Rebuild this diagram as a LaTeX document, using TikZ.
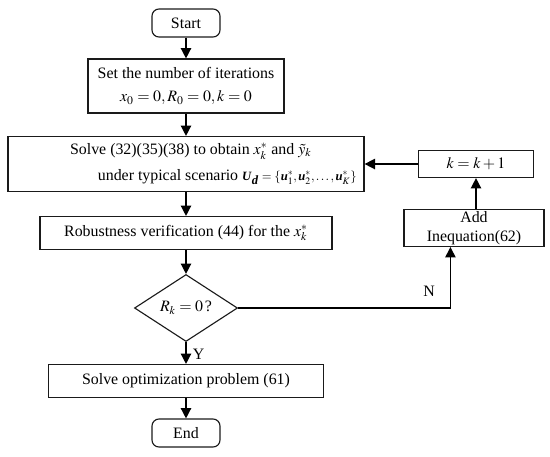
\documentclass[tikz,border=0pt]{standalone}
\usepackage{mathptmx}
\usepackage{fontspec}
\setmainfont{Liberation Serif}
\usetikzlibrary{arrows.meta,shapes.geometric}
\definecolor{boxline}{HTML}{1A1A1A}

\begin{document}
\begin{tikzpicture}[
  x=0.025cm, y=-0.025cm,
  font=\fontsize{11.3}{13.5}\selectfont,
  terminal/.style={draw=boxline, thick, rounded corners=5pt, minimum width=1.7cm,
                   minimum height=0.7cm, inner sep=0pt},
  process/.style={draw=boxline, thick, align=center, inner sep=0pt},
  decision/.style={draw=boxline, thick, diamond, inner sep=0pt,
                   minimum width=2.575cm, minimum height=1.675cm},
  flow/.style={-{Triangle[length=2.6mm,width=2.6mm]}, black, line width=1pt},
  branch/.style={font=\fontsize{11.3}{13.5}\selectfont},
]
\useasboundingbox (0,0) rectangle (550,456);

% ── main column ─────────────────────────────────────────────────────────
\node[terminal] (start) at (186,23) {Start};
\node[process, minimum width=4.9cm, minimum height=1.35cm] (init) at (186,86)
      {Set the number of iterations\\[3pt] $x_0 = 0, R_0 = 0, k = 0$};
\node[process, minimum width=8.9cm, minimum height=1.375cm] (solve) at (186,164)
      {\hspace*{0.6em}Solve (32)(35)(38) to obtain $x_k^*$ and $\tilde{y}_k$\\[5pt]
       \hspace*{5.2em}under typical scenario {\small$\textbf{\textit{U}}_{\textbf{\textit{d}}}
       = \{\textbf{\textit{u}}_1^*, \textbf{\textit{u}}_2^*, \ldots, \textbf{\textit{u}}_K^*\}$}};
\node[process, minimum width=7.3cm, minimum height=0.825cm] (robust) at (186,233)
      {Robustness verification (44) for the $x_k^*$};
\node[decision] (check) at (186,308) {$R_k = 0\,$?};
\node[process, minimum width=6.875cm, minimum height=0.825cm] (optim) at (186,381)
      {Solve optimization problem (61)};
\node[terminal] (stop) at (186,433) {End};

% ── feedback branch ─────────────────────────────────────────────────────
\node[process, minimum width=2.875cm, minimum height=0.675cm] (kinc) at (476,164)
      {$k = k + 1$};
\node[process, minimum width=3.5cm, minimum height=0.925cm] (addineq) at (474,228)
      {Add\\Inequation(62)};
\coordinate (nin) at ([xshift=1.175cm]addineq.south west);

% ── connectors ──────────────────────────────────────────────────────────
\draw[flow] (start) -- (init);
\draw[flow] (init) -- (solve);
\draw[flow] (solve) -- (robust);
\draw[flow] (robust) -- (check);
\draw[flow] (check) -- node[branch, right=1pt, pos=0.55] {Y} (optim);
\draw[flow] (optim) -- (stop);
\draw[flow] (check.east) -- node[branch, pos=0.9, above=4pt] {N}
      (check.east -| nin) -- (nin);
\draw[flow] (addineq.north -| kinc) -- (kinc);
\draw[flow] (kinc) -- (solve);

\end{tikzpicture}
\end{document}
